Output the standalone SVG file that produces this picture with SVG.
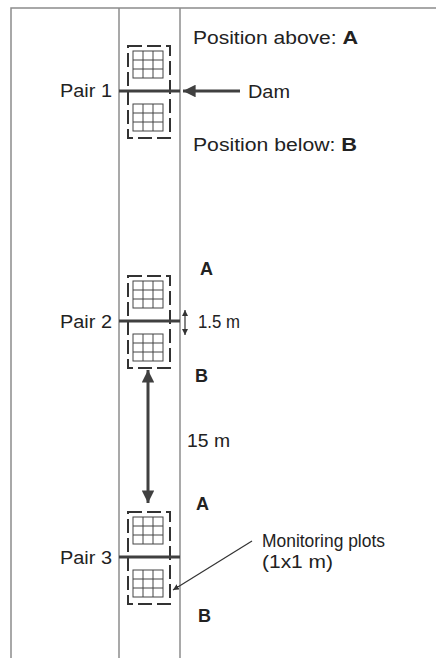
<svg xmlns="http://www.w3.org/2000/svg" width="436" height="658" viewBox="0 0 436 658">
  <style>
    .frame { stroke: #8c8c8c; stroke-width: 1.5; fill: none; }
    .dam { stroke: #404040; stroke-width: 3; }
    .plotbox { fill: none; stroke: #333333; stroke-width: 2; stroke-dasharray: 14 5; }
    .grid { fill: none; stroke: #444444; stroke-width: 1; }
    .lbl { font-family: "Liberation Sans", Arial, sans-serif; font-size: 17.5px; fill: #222222; }
    .bold { font-weight: bold; font-size: 18px; }
    .thick { stroke: #404040; stroke-width: 3; fill: none; }
    .thin { stroke: #333333; stroke-width: 1.2; fill: none; }
  </style>
  <defs>
    <marker id="headBig" viewBox="0 0 10 10" refX="10" refY="5" markerWidth="6.5" markerHeight="4.2" markerUnits="strokeWidth" orient="auto-start-reverse">
      <path d="M0,0 L10,5 L0,10 z" fill="#404040"/>
    </marker>
    <marker id="headSmall" viewBox="0 0 10 10" refX="10" refY="5" markerWidth="5" markerHeight="5" markerUnits="strokeWidth" orient="auto-start-reverse">
      <path d="M0,0 L10,5 L0,10 z" fill="#333333"/>
    </marker>
    <!-- 3x3 monitoring grid -->
    <g id="plotgrid">
      <rect class="grid" x="0" y="0" width="30" height="27"/>
      <path class="grid" d="M10,0 V27 M20,0 V27 M0,9 H30 M0,18 H30"/>
    </g>
    <!-- one pair of plots with dam -->
    <g id="pairShape">
      <rect class="plotbox" x="128" y="0" width="42" height="92"/>
      <use href="#plotgrid" x="133" y="5"/>
      <use href="#plotgrid" x="133" y="58"/>
      <line class="dam" x1="119" y1="45" x2="180" y2="45"/>
    </g>
  </defs>

  <!-- frame and stream banks -->
  <g id="frame">
    <path class="frame" d="M11,658 V8 H436"/>
    <line class="frame" x1="119" y1="8" x2="119" y2="658"/>
    <line class="frame" x1="180" y1="8" x2="180" y2="658"/>
  </g>

  <g id="pair1">
    <use href="#pairShape" y="46"/>
    <text class="lbl" x="60" y="97" textLength="52" lengthAdjust="spacingAndGlyphs">Pair 1</text>
    <text class="lbl" x="193" y="44" textLength="165" lengthAdjust="spacingAndGlyphs">Position above: <tspan class="bold">A</tspan></text>
    <text class="lbl" x="248" y="98" textLength="42" lengthAdjust="spacingAndGlyphs">Dam</text>
    <text class="lbl" x="193" y="151" textLength="164" lengthAdjust="spacingAndGlyphs">Position below: <tspan class="bold">B</tspan></text>
  </g>

  <g id="pair2">
    <use href="#pairShape" y="276"/>
    <text class="lbl" x="60" y="328" textLength="52" lengthAdjust="spacingAndGlyphs">Pair 2</text>
    <text class="lbl bold" x="200" y="275">A</text>
    <text class="lbl" x="198" y="328" textLength="42" lengthAdjust="spacingAndGlyphs">1.5 m</text>
    <text class="lbl bold" x="195" y="382">B</text>
  </g>

  <text id="gapLabel" class="lbl" x="187" y="447" textLength="43" lengthAdjust="spacingAndGlyphs">15 m</text>

  <g id="pair3">
    <use href="#pairShape" y="512"/>
    <text class="lbl" x="60" y="564" textLength="52" lengthAdjust="spacingAndGlyphs">Pair 3</text>
    <text class="lbl bold" x="196" y="510">A</text>
    <text class="lbl bold" x="198" y="622">B</text>
  </g>

  <g id="plotsNote">
    <text class="lbl" x="262" y="547" textLength="123" lengthAdjust="spacingAndGlyphs">Monitoring plots</text>
    <text class="lbl" x="262" y="568" textLength="71" lengthAdjust="spacingAndGlyphs">(1x1 m)</text>
  </g>

  <g id="connectors">
    <line class="thick" x1="240" y1="91" x2="183" y2="91" stroke-width="2.5" marker-end="url(#headBig)"/>
    <line class="thin" x1="185" y1="310" x2="185" y2="335" marker-start="url(#headSmall)" marker-end="url(#headSmall)"/>
    <line class="thick" x1="148" y1="370" x2="148" y2="503" marker-start="url(#headBig)" marker-end="url(#headBig)"/>
    <line class="thin" x1="252" y1="541" x2="173" y2="590" marker-end="url(#headSmall)"/>
  </g>
</svg>
